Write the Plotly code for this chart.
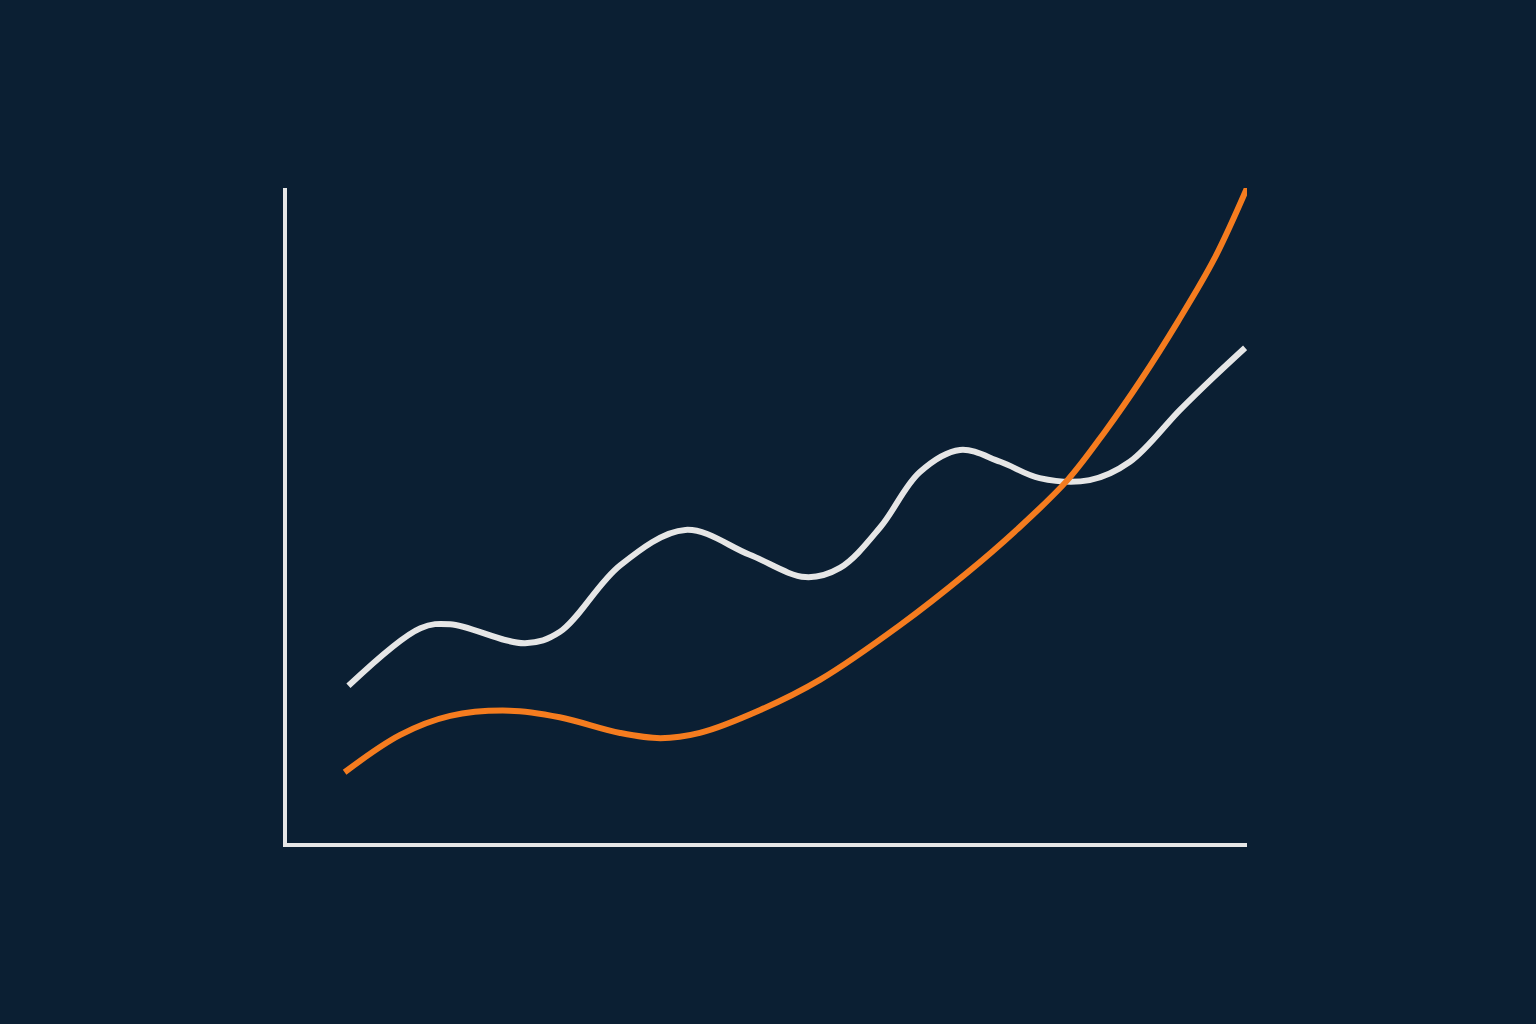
import plotly.graph_objects as go

# x positions share one scale (0-100), y values
white_x = [6.4, 13.9, 17.0, 24.8, 28.4, 34.7, 41.5, 48.2, 54.0, 57.6, 61.8, 65.9, 70.1, 74.3, 78.4, 83.6, 87.8, 93.0, 96.5, 99.8]
white_y = [24.0, 32.8, 33.4, 30.5, 32.2, 42.4, 47.8, 44.0, 40.6, 42.0, 48.2, 56.6, 60.0, 58.2, 55.7, 55.4, 58.2, 66.1, 71.1, 75.6]

orange_x = [6.0, 11.8, 17.0, 23.2, 28.4, 34.7, 38.9, 43.0, 49.3, 55.5, 63.9, 70.8, 76.0, 81.3, 85.2, 89.0, 92.8, 96.6, 100.0]
orange_y = [10.8, 16.5, 19.4, 20.2, 19.2, 16.8, 16.0, 16.8, 20.3, 24.9, 33.3, 41.2, 47.8, 55.4, 62.8, 70.8, 79.6, 89.2, 100.0]

bg = '#0b1f33'

fig = go.Figure()
fig.add_trace(go.Scatter(x=white_x, y=white_y, mode='lines',
                         line=dict(color='#e6e6e6', width=6, shape='spline', smoothing=1.0)))
fig.add_trace(go.Scatter(x=orange_x, y=orange_y, mode='lines',
                         line=dict(color='#f57c1f', width=6, shape='spline', smoothing=1.0)))

fig.update_layout(width=1536, height=1024,
                  margin=dict(l=287, r=289, t=188, b=181),
                  plot_bgcolor=bg, paper_bgcolor=bg,
                  showlegend=False,
                  xaxis=dict(range=[0, 100], showgrid=False, zeroline=False, showticklabels=False,
                             showline=True, linecolor='#e6e6e6', linewidth=4),
                  yaxis=dict(range=[0, 100], showgrid=False, zeroline=False, showticklabels=False,
                             showline=True, linecolor='#e6e6e6', linewidth=4))

# drop the page's default body margin so the figure sits at 0,0
fig.write_html("out.html", config=dict(displayModeBar=False),
               post_script="document.body.style.margin='0';document.body.style.background='%s';" % bg)
